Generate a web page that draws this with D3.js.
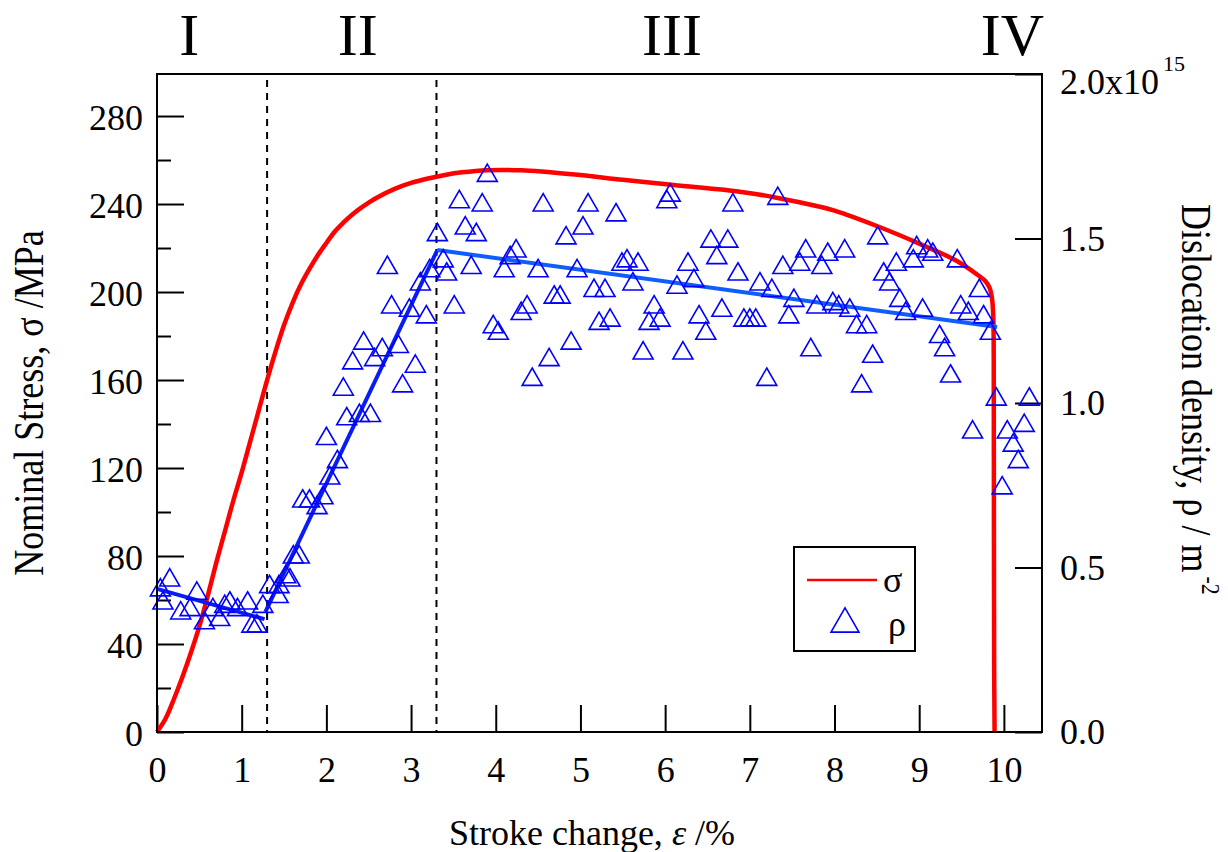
<!DOCTYPE html>
<html>
<head>
<meta charset="utf-8">
<script src="https://cdn.jsdelivr.net/npm/d3@7"></script>
<style>
  body { margin: 0; background: #fff; }
  svg { font-family: "Liberation Serif", "Times New Roman", serif; }
</style>
</head>
<body>
<svg id="chart" width="1228" height="852"></svg>
<script>
// stress-strain curve (sigma, MPa)
const strain = [0, 0.1, 0.2, 0.3, 0.4, 0.5, 0.6, 0.7, 0.8, 0.9, 1.0, 1.1, 1.2, 1.3, 1.4, 1.5, 1.6, 1.7, 1.8, 1.9,
  2.0, 2.1, 2.2, 2.3, 2.4, 2.5, 2.6, 2.8, 3.0, 3.2, 3.4, 3.6, 3.9, 4.3, 4.9, 5.5, 6.1, 6.9, 7.3, 7.8, 8.0, 8.5,
  9.0, 9.45, 9.7, 9.78, 9.83, 9.86, 9.875, 9.88, 9.882, 9.885, 9.89];
const stress = [0, 6, 15, 25, 36, 48, 62, 77, 91, 105, 118, 132, 146, 160, 173, 185, 195, 203.5, 210.5, 216.8,
  222.3, 227.5, 231.5, 235, 238, 240.6, 243, 246.8, 249.6, 251.6, 253.2, 254.4, 255.4, 255.3, 253.5, 251, 248.6, 245.5, 243, 239, 237, 230,
  222, 214, 207.5, 205, 202, 197, 188, 170, 100, 30, 0];

// dislocation density (x10^15 m^-2)
const rhoStrain = [0.04, 0.07, 0.15, 0.28, 0.39, 0.47, 0.56, 0.66, 0.74, 0.8, 0.86, 0.95, 1.07, 1.12, 1.18, 1.25,
  1.33, 1.43, 1.44, 1.52, 1.57, 1.61, 1.68, 1.72, 1.8, 1.89, 1.96, 2.0, 2.04, 2.13, 2.2, 2.24, 2.31, 2.39, 2.44, 2.52,
  2.57, 2.66, 2.72, 2.77, 2.85, 2.9, 2.98, 3.05, 3.11, 3.18, 3.22, 3.31, 3.38, 3.42, 3.51,
  3.57, 3.64, 3.71, 3.77, 3.84, 3.9, 3.97, 4.03, 4.1, 4.17, 4.24, 4.3, 4.37, 4.43, 4.5, 4.56, 4.63, 4.69, 4.76, 4.83,
  4.89, 4.96, 5.03, 5.09, 5.16, 5.22, 5.29, 5.35, 5.42, 5.49, 5.55, 5.62, 5.68, 5.74, 5.81, 5.87, 5.94, 6.02, 6.06,
  6.14, 6.21, 6.27, 6.34, 6.4, 6.48, 6.54, 6.61, 6.67, 6.74, 6.8, 6.86, 6.93, 7.0, 7.07, 7.12, 7.2, 7.26, 7.33, 7.39,
  7.46, 7.52, 7.59, 7.66, 7.72, 7.79, 7.85, 7.92, 7.98, 8.05, 8.12, 8.18, 8.26, 8.32, 8.38, 8.45, 8.51, 8.58, 8.65,
  8.73, 8.77, 8.84, 8.93, 8.97, 9.04, 9.1, 9.16, 9.24, 9.3, 9.37, 9.45, 9.49, 9.58, 9.63, 9.71, 9.76, 9.84, 9.91,
  9.98, 10.04, 10.11, 10.17, 10.24, 10.3];
const rhoValue = [0.44, 0.4, 0.47, 0.37, 0.38, 0.43, 0.34, 0.38, 0.35, 0.39, 0.4, 0.38, 0.4, 0.33, 0.33, 0.39,
  0.45, 0.42, 0.45, 0.48, 0.47, 0.54, 0.54, 0.71, 0.71, 0.69, 0.72, 0.9, 0.78, 0.83, 1.05, 0.96, 1.13, 0.97, 1.19, 0.97,
  1.14, 1.17, 1.42, 1.3, 1.18, 1.06, 1.29, 1.12, 1.37, 1.27, 1.41, 1.52, 1.44, 1.4, 1.3,
  1.62, 1.54, 1.42, 1.52, 1.61, 1.7, 1.24, 1.22, 1.41, 1.45, 1.47, 1.28, 1.3, 1.08, 1.41, 1.61, 1.14, 1.33, 1.33, 1.51,
  1.19, 1.41, 1.54, 1.61, 1.35, 1.25, 1.35, 1.26, 1.58, 1.43, 1.44, 1.37, 1.43, 1.16, 1.25, 1.3, 1.26, 1.62, 1.64,
  1.36, 1.16, 1.43, 1.38, 1.27, 1.22, 1.5, 1.45, 1.29, 1.5, 1.61, 1.4, 1.26, 1.26, 1.26, 1.37, 1.08, 1.35, 1.63, 1.42,
  1.27, 1.32, 1.43, 1.47, 1.17, 1.3, 1.42, 1.46, 1.31, 1.3, 1.47, 1.29, 1.24, 1.06, 1.24, 1.15, 1.51, 1.4, 1.37,
  1.43, 1.32, 1.28, 1.44, 1.48, 1.29, 1.47, 1.46, 1.21, 1.17, 1.09, 1.44, 1.3, 1.28, 0.92, 1.35, 1.27, 1.22, 1.02,
  0.75, 0.92, 0.88, 0.83, 0.94, 1.02];

// linear fits of rho, one per stage
const fitX1 = [0, 1.28, 3.31];
const fitY1 = [0.435, 0.365, 1.465];
const fitX2 = [1.27, 3.31, 9.92];
const fitY2 = [0.343, 1.465, 1.231];
const fitColors = ['#0a1cf5', '#0a1cf5', '#0f5cff'];

const stageBounds = [1.3, 3.3];
const stageNames = ['I', 'II', 'III', 'IV'];
const stageAt = [0.38, 2.37, 6.08, 10.1];

const strainTicks = [0, 1, 2, 3, 4, 5, 6, 7, 8, 9, 10];
const stressTicks = [0, 40, 80, 120, 160, 200, 240, 280];
const stressMinor = [20, 60, 100, 140, 180, 220, 260];
const rhoTicks = [0, 0.5, 1.0, 1.5, 2.0];

const padL = 157, padR = 1042, padT = 74, padB = 732;

var x = d3.scaleLinear().domain([0, 10.45]).range([padL, padR]);
var yS = d3.scaleLinear().domain([0, 299.1]).range([padB, padT]);
var yR = d3.scaleLinear().domain([0, 2.0]).range([padB, padT]);

var svg = d3.select('#chart');

function tri(cx, cy, w) {
  var h = w * 0.866;
  return 'M' + cx + ',' + (cy - h / 2) + 'L' + (cx + w / 2) + ',' + (cy + h / 2) +
    'L' + (cx - w / 2) + ',' + (cy + h / 2) + 'Z';
}

function styleAxis(g) {
  g.select('.domain').remove();
  g.attr('font-size', 36).attr('font-family', '"Liberation Serif", "Times New Roman", serif');
  g.selectAll('line').attr('stroke', '#000').attr('stroke-width', 2);
  g.selectAll('text').attr('fill', '#000');
}

// axes
var xAxis = svg.append('g').attr('transform', 'translate(0,' + padB + ')')
  .call(d3.axisBottom(x).tickValues(strainTicks).tickSize(-27).tickPadding(24).tickFormat(d3.format('d')));
styleAxis(xAxis);

var sAxis = svg.append('g').attr('transform', 'translate(' + padL + ',0)')
  .call(d3.axisLeft(yS).tickValues(stressTicks).tickSize(-27).tickPadding(14));
styleAxis(sAxis);
sAxis.selectAll('text').attr('dy', '0.38em');

var sMinor = svg.append('g').attr('transform', 'translate(' + padL + ',0)')
  .call(d3.axisLeft(yS).tickValues(stressMinor).tickSize(-14).tickFormat(''));
styleAxis(sMinor);

var rAxis = svg.append('g').attr('transform', 'translate(' + padR + ',0)')
  .call(d3.axisRight(yR).tickValues(rhoTicks).tickSize(-27).tickPadding(18).tickFormat(d3.format('.1f')));
styleAxis(rAxis);
var topLabel = rAxis.selectAll('text').filter(d => d === 2);
topLabel.text('2.0x10').attr('dy', 19);
topLabel.append('tspan').attr('dx', 4).attr('dy', -23).attr('font-size', 22).text('15');

// stage dividers
svg.selectAll('line.stage')
  .data(stageBounds)
  .enter()
  .append('line')
  .attr('x1', d => x(d)).attr('x2', d => x(d))
  .attr('y1', 80).attr('y2', padB)
  .attr('stroke', '#000').attr('stroke-width', 2).attr('stroke-dasharray', '7,6');

// stress curve
var stressLine = d3.line()
  .x((d, i) => x(strain[i]))
  .y(d => yS(d))
  .curve(d3.curveCatmullRom.alpha(0.5));
svg.append('path')
  .datum(stress)
  .attr('d', stressLine)
  .attr('fill', 'none')
  .attr('stroke', '#ff0000')
  .attr('stroke-width', 4.5)
  .attr('stroke-linejoin', 'round');

// fit lines
svg.selectAll('line.fit')
  .data(fitX1)
  .enter()
  .append('line')
  .attr('x1', d => x(d))
  .attr('y1', (d, i) => yR(fitY1[i]))
  .attr('x2', (d, i) => x(fitX2[i]))
  .attr('y2', (d, i) => yR(fitY2[i]))
  .attr('stroke', (d, i) => fitColors[i])
  .attr('stroke-width', 4);

// rho markers
svg.selectAll('path.rho')
  .data(rhoValue)
  .enter()
  .append('path')
  .attr('d', (d, i) => tri(x(rhoStrain[i]), yR(d), 20))
  .attr('fill', 'none')
  .attr('stroke', '#0000ff')
  .attr('stroke-width', 1.6);

// frame
svg.append('rect')
  .attr('x', padL).attr('y', padT)
  .attr('width', padR - padL).attr('height', padB - padT)
  .attr('fill', 'none').attr('stroke', '#000').attr('stroke-width', 2);

// stage names
svg.selectAll('text.stage')
  .data(stageNames)
  .enter()
  .append('text')
  .text(d => d)
  .attr('x', (d, i) => x(stageAt[i]))
  .attr('y', 55)
  .attr('text-anchor', 'middle')
  .attr('font-size', 60);

// axis titles
var xt = svg.append('text').attr('x', 592).attr('y', 845).attr('text-anchor', 'middle').attr('font-size', 36);
xt.append('tspan').text('Stroke change, ');
xt.append('tspan').attr('font-style', 'italic').text('\u03b5');
xt.append('tspan').text(' /%');

svg.append('text')
  .attr('transform', 'translate(43,403) rotate(-90) scale(1,1.15)')
  .attr('text-anchor', 'middle')
  .attr('font-size', 36)
  .text('Nominal Stress, \u03c3 /MPa');

var rt = svg.append('text')
  .attr('transform', 'translate(1182,204) rotate(90) scale(1,1.15)')
  .attr('font-size', 36);
rt.append('tspan').text('Dislocation density, \u03c1 / m');
rt.append('tspan').attr('dx', 4).attr('dy', -17).attr('font-size', 22).text('-2');

// legend
var legend = svg.append('g');
legend.append('rect')
  .attr('x', 794).attr('y', 547).attr('width', 121).attr('height', 104)
  .attr('fill', '#fff').attr('stroke', '#000').attr('stroke-width', 2);
legend.append('line')
  .attr('x1', 807).attr('x2', 877).attr('y1', 580).attr('y2', 580)
  .attr('stroke', '#ff0000').attr('stroke-width', 2.5);
legend.append('text').attr('x', 883).attr('y', 592).attr('font-size', 36).text('\u03c3');
legend.append('path')
  .attr('d', tri(845, 620, 28))
  .attr('fill', 'none').attr('stroke', '#0000ff').attr('stroke-width', 1.6);
legend.append('text').attr('x', 888).attr('y', 636).attr('font-size', 36).text('\u03c1');
</script>
</body>
</html>
